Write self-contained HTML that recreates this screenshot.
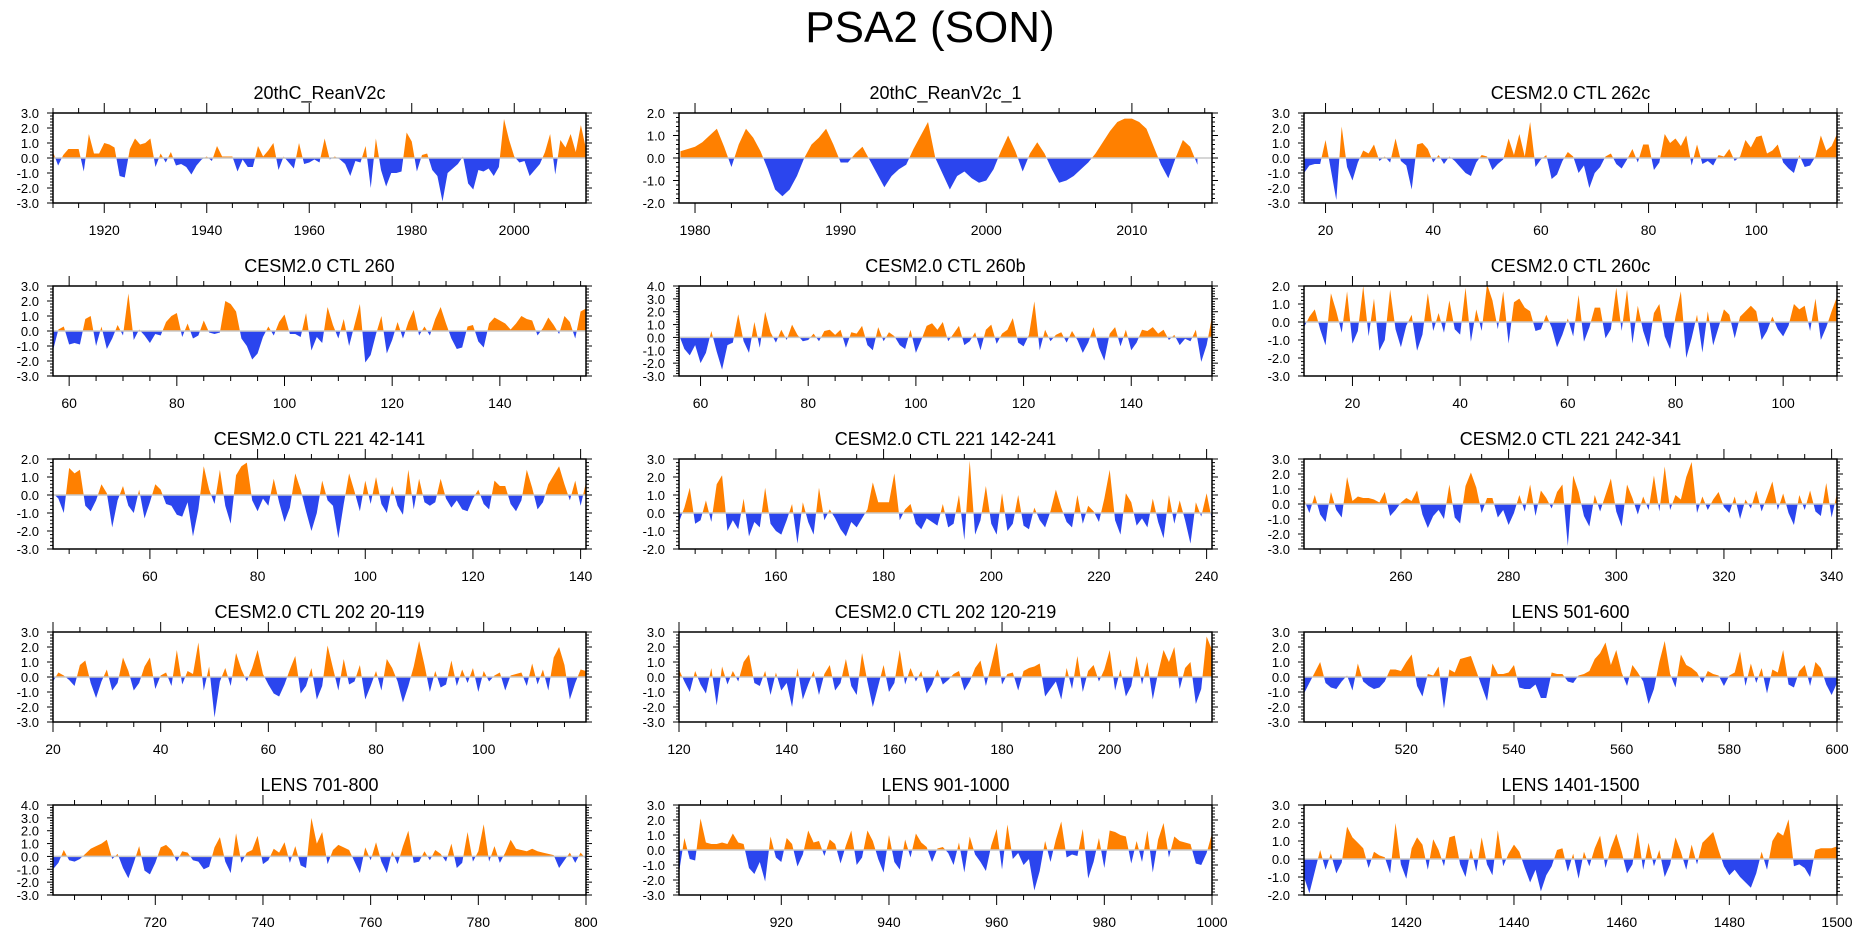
<!DOCTYPE html>
<html><head><meta charset="utf-8"><style>
body{margin:0;background:#fff;font-family:"Liberation Sans",sans-serif}
svg text{font-family:"Liberation Sans",sans-serif}
</style></head><body>
<svg id="chart" width="1861" height="936" viewBox="0 0 1861 936" xmlns="http://www.w3.org/2000/svg">
<text x="930" y="42" font-size="44" text-anchor="middle">PSA2 (SON)</text>
</svg>
<script>
const titles = ["20thC_ReanV2c","20thC_ReanV2c_1","CESM2.0 CTL 262c","CESM2.0 CTL 260","CESM2.0 CTL 260b","CESM2.0 CTL 260c","CESM2.0 CTL 221 42-141","CESM2.0 CTL 221 142-241","CESM2.0 CTL 221 242-341","CESM2.0 CTL 202 20-119","CESM2.0 CTL 202 120-219","LENS 501-600","LENS 701-800","LENS 901-1000","LENS 1401-1500"];
const starts = [1910,1979,16,57,56,11,42,142,242,20,120,501,701,901,1401];
const steps = [1,0.5,1,1,1,1,1,1,1,1,1,1,1,1,1];
const domainStarts = [1910,1978.9,16,57,56,11,42,142,242,20,120,501,701,901,1401];
const ends = [2014,2015.5,115,156,155,110,141,241,341,119,219,600,800,1000,1500];
const yMins = [-3,-2,-3,-3,-3,-3,-3,-2,-3,-3,-3,-3,-3,-3,-2];
const yMaxs = [3,2,3,3,4,2,2,3,3,3,3,3,4,3,3];
const xTickStarts = [1920,1980,20,60,60,20,60,160,260,20,120,520,720,920,1420];
const xTickSteps = [20,10,20,20,20,20,20,20,20,20,20,20,20,20,20];
const s1 = [0.4,-0.5,0.2,0.6,0.6,0.6,-0.9,1.6,0.3,0.3,1.0,0.9,0.7,-1.2,-1.3,0.6,1.3,0.9,1.0,1.3,-0.6,0.3,-0.3,0.4,-0.5,-0.4,-0.6,-1.1,-0.5,-0.1,0.1,-0.2,0.8,0.1,0.1,0.1,-0.9,-0.1,-0.6,-0.6,0.8,0.1,0.5,1.0,-0.8,0.1,-0.3,-0.7,1.0,-0.4,-0.3,-0.1,-0.3,1.3,-0.1,0.1,-0.1,-0.4,-1.2,-0.2,-0.3,0.8,-2.0,1.3,-0.8,-1.9,-1.0,-1.0,-0.9,1.7,1.1,-0.9,0.2,0.3,-0.8,-1.2,-2.9,-1.0,-0.7,-0.4,0.1,-1.7,-2.1,-0.8,-0.9,-0.7,-1.2,-0.6,2.6,1.2,0.1,-0.3,-0.2,-1.2,-0.8,-0.4,0.4,1.6,-1.1,1.2,0.7,1.6,0.4,2.2,0.6];
const s2 = [0.3,0.4,0.5,0.7,1.0,1.3,0.5,-0.4,0.6,1.3,0.9,0.3,-0.5,-1.4,-1.7,-1.4,-0.8,0.0,0.6,0.9,1.3,0.6,-0.2,-0.2,0.2,0.5,-0.1,-0.7,-1.3,-0.8,-0.5,-0.3,0.4,1.0,1.6,0.0,-0.7,-1.4,-0.8,-0.6,-0.9,-1.1,-1.0,-0.5,0.3,1.0,0.3,-0.6,0.2,0.7,0.2,-0.5,-1.1,-1.0,-0.8,-0.5,-0.2,0.2,0.7,1.2,1.6,1.75,1.75,1.6,1.3,0.5,-0.3,-0.9,0.0,0.8,0.5,-0.3];
const s3 = [-1.0,-0.5,-0.4,-0.4,1.2,-0.8,-2.8,2.1,-0.6,-1.5,-0.3,0.5,0.3,0.9,-0.2,0.1,-0.3,1.3,-0.2,-0.5,-2.1,0.9,1.0,0.6,-0.3,0.2,-0.4,0.1,-0.2,-0.6,-1.0,-1.2,-0.3,0.2,0.1,-0.8,-0.4,-0.1,1.3,0.2,1.6,0.1,2.4,-0.6,-0.1,0.2,-1.4,-1.1,-0.2,0.4,0.1,-1.0,-0.5,-2.0,-1.0,-0.6,0.1,0.3,-0.4,-0.7,-0.1,0.6,-0.3,0.9,0.9,-0.8,-0.3,1.6,1.0,1.3,0.8,1.5,-0.5,0.9,-0.4,-0.2,-0.5,0.2,0.1,0.6,-0.2,0.1,1.2,0.7,1.4,1.5,0.3,0.5,0.9,-0.3,-0.7,-1.0,0.2,-0.6,-0.5,0.1,1.5,0.5,0.8,1.6];
const s4 = [-1.3,0.1,0.3,-0.9,-0.8,-0.9,0.8,1.0,-1.0,0.3,-1.2,-0.5,0.4,-0.3,2.5,-0.6,0.1,-0.3,-0.8,-0.2,-0.3,0.6,1.0,1.2,-0.4,0.5,-0.5,-0.3,0.7,-0.1,-0.2,-0.1,2.0,1.8,1.3,-0.5,-1.0,-1.9,-1.5,-0.4,0.3,-0.3,0.6,1.1,-0.2,-0.2,-0.4,1.2,-1.3,-0.4,-0.8,1.6,0.4,-0.5,0.8,-1.0,0.4,1.8,-2.1,-1.6,-0.2,1.0,-1.5,-0.6,0.6,-0.5,0.6,1.4,-0.3,0.3,-0.3,0.8,1.6,0.5,-0.5,-1.2,-1.1,0.3,0.4,-0.7,-1.1,0.5,0.9,0.7,0.5,0.1,0.5,1.0,0.8,0.7,-0.3,0.2,0.9,0.4,-0.2,1.0,0.6,-0.5,1.3,1.5];
const s5 = [0.2,-0.9,-1.4,-0.6,-2.0,-1.2,0.5,-1.1,-2.5,-0.6,-0.4,1.8,-0.3,-1.2,1.2,-0.8,2.0,0.4,-0.4,0.6,-0.2,1.0,0.2,-0.3,-0.2,0.3,-0.3,0.5,0.6,0.2,0.6,-0.8,0.4,0.3,0.9,-0.6,-1.0,0.8,-0.3,0.4,0.1,-0.6,-0.9,0.6,-1.2,-0.2,0.9,1.1,0.6,1.2,-0.3,0.3,0.9,-0.6,-0.3,0.4,-1.0,0.6,1.0,-0.5,0.3,0.6,1.5,-0.4,-0.7,0.2,2.8,-1.0,0.6,-0.3,0.2,0.4,-0.4,0.5,-0.2,-1.2,-0.4,0.8,-0.8,-1.8,0.3,0.8,-0.7,0.6,-1.0,-0.4,0.6,0.5,0.8,0.3,0.6,-0.2,0.2,-0.6,-0.1,-0.3,0.6,-1.9,-0.6,1.6,1.0];
const s6 = [-0.3,0.3,0.7,-0.4,-1.3,1.6,0.6,-0.6,1.7,-1.2,-0.5,2.0,-0.8,1.3,-1.6,-1.0,1.8,-0.4,-1.4,-0.2,0.4,-1.6,-0.7,1.6,-0.5,0.5,-0.6,1.2,-0.4,-0.7,1.9,-1.1,0.7,-0.5,2.1,1.2,-0.4,1.7,-1.2,1.1,1.3,0.8,0.6,-0.5,-0.4,0.4,-0.3,-1.4,-0.7,0.2,-0.8,1.5,-1.1,-0.3,0.8,0.8,-0.9,-0.4,1.9,-0.5,1.8,-1.2,0.9,-0.5,-1.4,0.5,1.0,-0.8,-1.5,0.3,1.7,-2.0,-0.9,0.4,-1.7,0.6,-1.3,-0.3,0.7,0.4,-0.9,0.3,0.6,0.9,0.6,-1.0,-0.5,0.3,-0.4,-0.8,-0.2,1.0,0.7,0.9,-0.5,1.3,-1.0,-0.3,0.6,1.4];
const s7 = [0.1,-0.2,-1.0,1.5,1.2,1.4,-0.6,-0.9,-0.3,0.6,0.1,-1.8,-0.3,0.5,-0.6,-1.0,0.3,-1.3,-0.4,0.6,0.3,-0.5,-0.6,-1.1,-1.2,-0.4,-2.3,-0.8,1.6,0.3,-0.5,1.4,-0.6,-1.6,1.1,1.6,1.8,-0.3,-0.9,-0.2,-0.6,0.9,-0.4,-1.5,-0.7,1.2,0.3,-0.9,-2.0,-1.0,0.8,-0.3,-0.6,-2.4,-0.5,1.2,0.2,-0.9,0.8,-0.5,1.0,-0.5,-1.0,0.5,-0.6,-1.1,1.4,-0.8,0.9,-0.4,-0.6,-0.4,0.9,-0.2,-0.7,-0.3,-0.8,-0.9,-0.2,0.3,-0.5,-0.8,0.8,0.5,0.5,-0.5,-0.9,-0.3,1.4,0.4,-0.8,-0.4,0.6,1.1,1.6,0.6,-0.3,0.8,-0.6,0.7];
const s8 = [-0.5,0.3,1.4,-0.6,-0.4,0.7,-0.5,1.6,2.1,-1.0,-0.4,-0.9,0.8,-1.3,-0.5,-0.8,1.4,-0.6,-1.0,-1.2,-0.4,0.5,-1.7,0.6,-0.5,-1.2,1.4,-0.4,0.2,-0.3,-0.9,-1.3,-0.5,-0.8,-0.3,0.2,1.7,0.6,0.6,0.6,2.2,-0.4,0.2,0.5,-0.6,-0.9,-0.3,-0.5,-0.7,0.5,-0.8,-0.6,1.0,-1.5,2.9,-1.2,-0.4,1.5,-0.6,-1.2,1.1,-1.0,-0.6,1.0,-0.7,-0.9,0.3,-0.4,-0.8,0.1,1.3,0.3,-0.5,-0.8,1.0,-0.6,0.4,0.1,-0.5,0.8,2.4,-0.4,-1.2,1.1,0.6,-0.7,-0.3,-0.8,0.8,-0.5,-1.4,1.0,-0.6,0.7,-0.4,-1.7,0.6,-0.2,1.1,-0.4,-1.6];
const s9 = [0.3,-0.6,0.6,-0.7,-1.2,0.8,-0.4,-0.9,1.8,0.2,0.5,0.4,0.4,0.3,0.1,0.8,-0.8,-0.4,0.1,0.4,0.2,0.9,-0.7,-1.6,-0.8,-0.4,-1.0,1.3,-0.9,-1.3,1.2,2.1,1.1,-0.6,0.4,0.4,-0.9,-0.4,-1.4,-0.6,0.6,-0.5,1.3,-0.8,0.9,0.4,-0.3,0.8,1.3,-2.8,1.9,0.8,-0.8,-1.5,0.6,-0.5,0.6,1.7,-0.5,-1.5,1.3,0.4,-0.7,0.5,-0.4,1.9,-0.5,2.5,-0.4,0.6,0.3,1.8,2.8,-0.6,0.5,-0.4,0.3,0.8,-0.2,-0.6,0.5,-1.0,0.3,-0.3,0.9,-0.5,0.5,1.5,-0.4,0.7,-0.6,-1.4,0.6,-0.4,0.9,-0.5,-0.8,1.4,-0.9,0.7];
const s10 = [-0.3,0.3,0.1,-0.2,-0.6,0.8,1.1,-0.4,-1.4,-0.3,0.5,-0.9,-0.4,1.3,0.4,-0.9,-0.4,0.7,1.3,-0.8,0.1,0.3,-0.6,1.8,-0.5,0.4,0.2,2.3,-0.9,0.7,-2.7,-0.3,0.6,-0.6,1.6,0.5,-0.3,0.6,1.8,0.2,-0.5,-1.1,-1.3,-0.5,0.5,1.4,-1.1,-0.6,0.6,-1.5,-0.6,2.1,0.6,-0.9,1.2,-0.5,-0.3,0.8,-1.5,-0.6,0.4,-0.9,1.2,0.6,-0.3,-1.7,-0.6,0.7,2.4,0.8,-1.0,0.4,-0.7,-0.5,1.1,-0.6,0.5,-0.4,0.6,-1.0,0.4,-0.3,0.1,0.3,-0.9,0.1,0.2,0.3,-0.6,0.9,-0.5,0.5,-0.9,1.3,2.0,0.8,-1.5,-0.4,0.5,0.4];
const s11 = [0.5,-0.3,-1.0,0.4,-0.5,-1.1,0.6,-1.9,0.7,-0.5,0.4,-0.3,1.0,1.5,-0.4,-0.6,0.4,-1.2,0.3,-0.9,-0.4,-2.0,0.6,-1.5,-0.5,0.4,-1.2,0.2,0.8,-0.9,-0.4,1.2,-0.6,-1.2,1.6,-0.3,-2.0,-0.6,0.8,-1.0,-0.4,1.8,-0.5,0.6,-0.3,0.4,-1.1,-0.5,0.5,-0.5,-0.2,0.2,0.4,-0.9,-0.3,0.6,1.1,-0.6,0.8,2.3,-0.5,0.2,0.3,-0.9,0.4,0.6,0.7,0.9,-1.3,-0.8,-0.3,-1.5,0.6,-0.8,1.4,-1.0,0.4,0.8,-0.3,0.5,1.8,-0.9,0.5,-1.3,-0.6,1.4,-0.5,1.0,-1.5,0.3,1.8,1.0,2.0,-0.8,0.6,1.0,-1.8,-0.8,2.7,1.8];
const s12 = [-1.1,-0.4,0.3,1.0,-0.4,-0.7,-0.8,-0.3,0.1,-0.9,0.9,-0.3,-0.6,-0.8,-0.7,-0.3,0.5,0.5,0.4,1.0,1.5,-0.6,-1.3,0.2,0.1,0.7,-2.1,0.5,0.3,1.2,1.3,1.4,0.4,-0.6,-1.6,0.9,0.2,0.2,0.3,0.8,-0.7,-0.8,-0.8,-0.5,-1.4,-1.4,0.3,0.2,0.2,-0.3,-0.4,0.1,0.2,0.4,1.2,1.6,2.3,0.8,1.8,0.3,-0.6,0.8,0.3,-0.3,-1.8,-0.8,1.0,2.4,0.2,-0.7,1.5,0.8,0.6,0.3,-0.4,0.4,0.2,0.1,-0.6,0.1,0.3,1.7,-0.6,0.9,-0.4,0.6,-1.1,0.5,0.3,1.8,-0.5,-0.7,0.4,0.8,-0.6,1.0,0.6,-0.5,-1.2,-0.4];
const s13 = [-1.0,-0.5,0.5,-0.3,-0.4,-0.2,0.2,0.6,0.8,1.0,1.3,-0.2,0.2,-0.9,-1.7,-0.5,0.8,-1.1,-1.4,-0.5,0.7,0.9,0.5,-0.4,0.4,0.3,-0.3,-0.4,-1.0,-0.8,0.7,1.5,-0.4,-1.3,1.8,-0.5,0.3,0.5,1.6,-0.6,-0.3,0.6,0.3,1.1,-0.5,0.8,-0.7,-0.9,3.0,1.0,1.9,-0.6,0.5,0.9,0.7,0.5,-0.4,-1.3,0.7,-0.3,1.1,-0.4,-1.3,0.4,-0.6,0.8,2.0,-0.5,-0.4,0.4,-0.3,0.5,0.2,-0.4,1.0,-0.9,-0.5,1.9,-0.4,0.4,2.5,-0.4,0.8,-0.5,0.3,1.3,0.6,0.5,0.4,0.6,0.4,0.3,0.2,0.1,-0.9,-0.3,0.3,-0.5,0.3,-0.2];
const s14 = [-1.5,0.8,-0.6,-0.7,2.1,0.5,0.4,0.4,0.5,0.4,1.1,0.5,0.4,-1.2,-1.6,-0.8,-2.1,0.9,-0.5,-0.8,0.8,0.4,-1.1,-0.3,1.3,0.5,0.6,-0.4,0.7,0.4,-0.9,0.3,1.3,-1.0,-0.5,1.3,0.6,-0.6,-1.5,1.0,-0.8,-1.3,0.7,-0.5,1.1,0.5,0.2,-0.8,0.1,0.2,-0.2,-1.0,0.5,-1.5,0.9,-0.3,-0.8,-1.4,0.3,1.4,-1.3,1.7,-0.6,-0.2,-1.0,-0.6,-2.7,-1.4,0.6,-0.8,0.7,1.9,-0.5,-0.3,-0.4,1.4,-1.9,-0.8,0.8,-1.2,1.3,1.2,1.0,0.9,-0.9,0.6,-0.8,1.3,-1.5,0.7,1.8,-0.5,0.9,0.6,0.5,0.4,-0.9,-1.0,-0.2,1.1];
const s15 = [-1.0,-1.9,-0.7,0.5,-0.6,0.3,-0.8,-0.2,1.8,1.2,0.9,0.6,-0.5,0.4,0.2,0.1,-0.8,2.0,-0.3,-1.1,0.6,1.2,0.8,-0.6,1.1,0.5,-0.4,1.2,1.3,-0.3,-1.0,0.6,-0.7,1.2,-0.3,-0.9,1.6,-0.4,0.3,0.8,0.4,-0.5,-1.3,-0.6,-1.8,-0.9,-0.4,0.5,0.6,-0.7,0.3,-1.1,0.4,-0.4,0.6,1.3,-0.5,0.6,1.4,0.4,-0.8,-0.3,1.5,-0.6,0.9,-0.4,0.5,-1.0,-0.3,1.2,0.4,-0.6,0.8,-0.3,0.9,1.2,1.5,0.5,-0.4,-0.9,-0.6,-1.0,-1.3,-1.6,-0.8,0.4,-0.6,1.0,1.5,1.3,2.2,-0.4,-0.3,-0.5,-1.0,0.5,0.6,0.6,0.6,0.7];
const series = [s1,s2,s3,s4,s5,s6,s7,s8,s9,s10,s11,s12,s13,s14,s15];

const NS = "http://www.w3.org/2000/svg";
const svg = document.getElementById('chart');
const colLeft = [53,679,1304], rowTop = [113,286,459,632,805], PW = 533, PH = 90;
function mk(tag, attrs, parent){const e=document.createElementNS(NS,tag);for(const k in attrs)e.setAttribute(k,attrs[k]);(parent||svg).appendChild(e);return e;}

series.forEach((vals, p) => {
  const L = colLeft[p%3], T = rowTop[Math.floor(p/3)];
  const x0 = domainStarts[p], x1 = ends[p], y0 = yMins[p], y1 = yMaxs[p];
  const sx = v => L + (v - x0)/(x1 - x0)*PW;
  const sy = v => T + PH - (v - y0)/(y1 - y0)*PH;
  const g = mk('g', {});
  
  
  const t = mk('text', {x: L + PW/2, y: T - 14, 'font-size': 18, 'text-anchor': 'middle'}, g);
  
  
  t.textContent = titles[p];
  const cu = mk('clipPath', {id: 'cu'+p}, g); mk('rect', {x: L, y: T, width: PW, height: sy(0)-T}, cu);
  const cd = mk('clipPath', {id: 'cd'+p}, g); mk('rect', {x: L, y: sy(0), width: PW, height: T+PH-sy(0)}, cd);
  const xs = starts[p];
  let d = 'M' + sx(xs) + ',' + sy(0);
  vals.forEach((v, i) => { d += 'L' + sx(xs + i*steps[p]).toFixed(2) + ',' + sy(v).toFixed(2); });
  d += 'L' + sx(xs + (vals.length-1)*steps[p]).toFixed(2) + ',' + sy(0) + 'Z';
  const up = mk('path', {d: d, fill: '#ff8000', 'clip-path': 'url(#cu'+p+')'}, g);
  
  
  const dn = mk('path', {d: d, fill: '#2b45ee', 'clip-path': 'url(#cd'+p+')'}, g);
  
  
  mk('line', {x1: L, x2: L+PW, y1: sy(0), y2: sy(0), stroke: '#c8c8c8', 'stroke-width': 1.5}, g);
  const fr = mk('rect', {x: L, y: T, width: PW, height: PH, fill: 'none', stroke: '#000', 'stroke-width': 1.5}, g);
  
  
  for (let v = y0; v <= y1 + 1e-9; v += 0.2) {
    const major = Math.abs(v - Math.round(v)) < 1e-6;
    const len = major ? 6 : 3, y = sy(v);
    mk('line', {x1: L-len, x2: L, y1: y, y2: y, stroke: '#000', 'stroke-width': 1}, g);
    mk('line', {x1: L+PW, x2: L+PW+len, y1: y, y2: y, stroke: '#000', 'stroke-width': 1}, g);
    if (major) {
      const lt = mk('text', {x: L-14, y: y+5, 'font-size': 13, 'text-anchor': 'end'}, g);
      
      
      lt.textContent = Math.round(v).toFixed(1);
    }
  }
  const st = xTickSteps[p], minor = st/4;
  for (let v = Math.ceil(x0/minor)*minor; v <= x1 + 1e-9; v += minor) {
    const major = Math.abs((v - xTickStarts[p]) % st) < 1e-6 && v >= xTickStarts[p];
    const len = major ? 10 : 5, x = sx(v);
    mk('line', {x1: x, x2: x, y1: T-len, y2: T, stroke: '#000', 'stroke-width': 1}, g);
    mk('line', {x1: x, x2: x, y1: T+PH, y2: T+PH+len, stroke: '#000', 'stroke-width': 1}, g);
    if (major) {
      const xt = mk('text', {x: x, y: T+PH+32, 'font-size': 14, 'text-anchor': 'middle'}, g);
      
      
      xt.textContent = String(Math.round(v));
    }
  }
});
</script>
</body></html>
